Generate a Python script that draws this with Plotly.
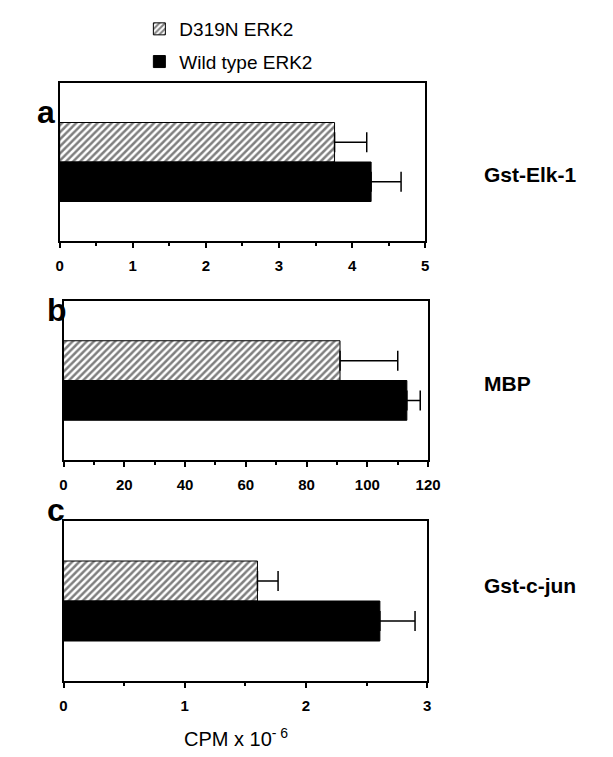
import plotly.graph_objects as go

# ---- data (CPM x 10^-6 ; panel b in its own units) ----
series = ["D319N ERK2", "Wild type ERK2"]
substrates = ["Gst-Elk-1", "MBP", "Gst-c-jun"]
panel_letters = ["a", "b", "c"]
d319n_vals = [3.76, 91.0, 1.60]
d319n_err = [0.44, 19.0, 0.17]
wt_vals = [4.26, 113.0, 2.61]
wt_err = [0.41, 4.4, 0.29]
x_ranges = [[0, 5], [0, 120], [0, 3]]
x_dticks = [1, 20, 1]
x_minor = [0.5, 10, 0.5]

W, H = 613, 757
# panel boxes in pixels (left, right, top, bottom)
boxes = [(49, 425, 75, 233), (53, 428, 293, 452), (53, 427, 513, 673)]
letter_x = [24, 34, 34]
label_y = [153, 375, 591]

FONT = "Liberation Sans, Arial, Helvetica, sans-serif"
fig = go.Figure()

for i in range(3):
    ax = "" if i == 0 else str(i + 1)
    fig.add_trace(go.Bar(
        y=["s"], x=[d319n_vals[i]], orientation="h", name=series[0],
        marker=dict(color="white", line=dict(color="black", width=1),
                    pattern=dict(shape="/", fgcolor="black", bgcolor="white",
                                 size=5, solidity=0.5)),
        error_x=dict(type="data", array=[d319n_err[i]], arrayminus=[0],
                     symmetric=False, color="black", thickness=1.5, width=10),
        xaxis="x" + ax, yaxis="y" + ax, showlegend=(i == 0), legendgroup="g1",
    ))
    fig.add_trace(go.Bar(
        y=["s"], x=[wt_vals[i]], orientation="h", name=series[1],
        marker=dict(color="black", line=dict(color="black", width=1)),
        error_x=dict(type="data", array=[wt_err[i]], arrayminus=[0],
                     symmetric=False, color="black", thickness=1.5, width=10),
        xaxis="x" + ax, yaxis="y" + ax, showlegend=(i == 0), legendgroup="g2",
    ))
    l, r, t, b = boxes[i]
    xdom = [l / W, r / W]
    ydom = [1 - b / H, 1 - t / H]
    fig.update_layout(**{
        "xaxis" + ax: dict(domain=xdom, anchor="y" + ax, range=x_ranges[i],
                           dtick=x_dticks[i], tick0=0, ticks="outside", ticklen=5,
                           tickwidth=1.5, tickcolor="black", showline=True,
                           linecolor="black", linewidth=1.5, mirror=True,
                           showgrid=False, zeroline=False,
                           ticklabelstandoff=5,
                           tickfont=dict(family=FONT, size=15, color="black",
                                         weight="bold"),
                           minor=dict(dtick=x_minor[i], ticks="outside", ticklen=3,
                                      tickcolor="black", tickwidth=1.5, showgrid=False)),
        "yaxis" + ax: dict(domain=ydom, anchor="x" + ax, range=[0.5, -0.5],
                           showticklabels=False, ticks="", showline=True,
                           linecolor="black", linewidth=2, mirror=True,
                           showgrid=False, zeroline=False),
    })
    fig.add_annotation(text="<b>%s</b>" % panel_letters[i], xref="paper", yref="paper",
                       x=letter_x[i] / W, y=1 - (t + 9) / H,
                       showarrow=False, font=dict(family=FONT, size=32, color="black"))
    fig.add_annotation(text="<b>%s</b>" % substrates[i], xref="paper", yref="paper",
                       x=483 / W, y=1 - label_y[i] / H, xanchor="left",
                       showarrow=False, font=dict(family=FONT, size=21, color="black"))

fig.add_annotation(text="CPM x 10<sup>- 6</sup>", xref="paper", yref="paper",
                   x=230 / W, y=1 - 744 / H, showarrow=False,
                   font=dict(family=FONT, size=20, color="black"))

fig.update_layout(
    width=W, height=H, margin=dict(l=0, r=0, t=0, b=0),
    paper_bgcolor="white", plot_bgcolor="white",
    barmode="group", bargap=0.5, bargroupgap=0.0,
    showlegend=True,
    legend=dict(x=131 / W, y=1 - 2 / H, xanchor="left", yanchor="top",
                font=dict(family=FONT, size=19, color="black"),
                bgcolor="rgba(0,0,0,0)", tracegroupgap=5, itemwidth=30),
)

fig.write_html("out.html")
